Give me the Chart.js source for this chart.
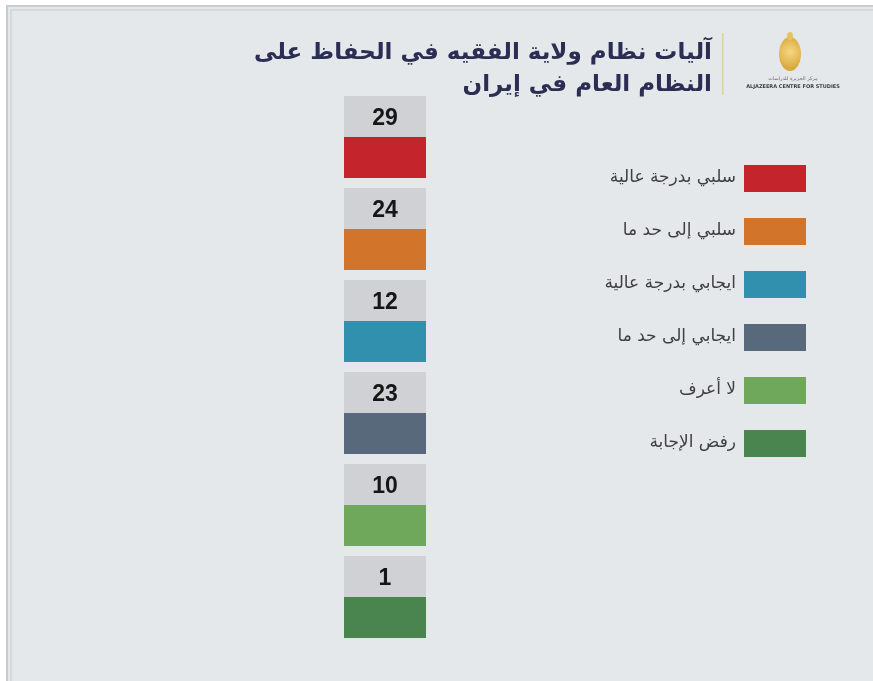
<!DOCTYPE html>
<html lang="ar">
<head>
<meta charset="utf-8">
<title>آليات نظام ولاية الفقيه</title>
<script src="https://cdn.jsdelivr.net/npm/chart.js@4.4.1/dist/chart.umd.min.js"></script>
<style>
  html, body { margin: 0; padding: 0; background: #ffffff; }
  #wrap { width: 873px; height: 681px; position: relative; }
</style>
</head>
<body>
<div id="wrap"><canvas id="chart" width="873" height="681"></canvas></div>
<script>
// survey answers, top to bottom
const categories = [
  'سلبي بدرجة عالية',
  'سلبي إلى حد ما',
  'ايجابي بدرجة عالية',
  'ايجابي إلى حد ما',
  'لا أعرف',
  'رفض الإجابة'
];
const values = [29, 24, 12, 23, 10, 1];
const colors = ['#c4242b', '#d2742a', '#3190ad', '#58697b', '#6fa75b', '#4a8550'];
const titleLines = ['آليات نظام ولاية الفقيه في الحفاظ على', 'النظام العام في إيران'];

const labelBoxColor = '#cfd1d4';
const panelColor = '#e5e8eb';

// panel background with the thin frame on top/left
const panelBackground = {
  id: 'panelBackground',
  beforeDraw(chart) {
    const ctx = chart.ctx;
    ctx.save();
    ctx.fillStyle = '#ffffff';
    ctx.fillRect(0, 0, chart.width, chart.height);
    ctx.fillStyle = panelColor;
    ctx.fillRect(6, 5, chart.width - 6, chart.height - 5);
    ctx.fillStyle = '#c9ccd0';
    ctx.fillRect(6, 5, chart.width - 6, 2);
    ctx.fillRect(6, 5, 2, chart.height - 5);
    ctx.fillStyle = '#d6d9dc';
    ctx.fillRect(10, 9, chart.width - 10, 2);
    ctx.fillRect(10, 9, 2, chart.height - 9);
    ctx.restore();
  }
};

// number printed in the grey box above each coloured block
const valueLabels = {
  id: 'valueLabels',
  afterDatasetsDraw(chart) {
    const ctx = chart.ctx;
    const meta = chart.getDatasetMeta(0);
    ctx.save();
    ctx.fillStyle = '#161616';
    ctx.font = 'bold 23px "Liberation Sans", Arial, sans-serif';
    ctx.textAlign = 'center';
    ctx.textBaseline = 'middle';
    meta.data.forEach((bar, i) => {
      ctx.fillText(String(values[i]), (bar.x + bar.base) / 2, bar.y + 2);
    });
    ctx.restore();
  }
};

// legend on the right, text to the left of each swatch
const sideLegend = {
  id: 'sideLegend',
  afterDraw(chart) {
    const ctx = chart.ctx;
    ctx.save();
    ctx.font = '17px "DejaVu Sans", sans-serif';
    ctx.textAlign = 'right';
    ctx.textBaseline = 'middle';
    ctx.direction = 'rtl';
    categories.forEach((name, i) => {
      const y = 165 + i * 53;
      ctx.fillStyle = colors[i];
      ctx.fillRect(744, y, 62, 27);
      ctx.fillStyle = '#3f3f3f';
      ctx.fillText(name, 736, y + 13);
    });
    ctx.restore();
  }
};

// title block with the separator and the centre logo
const header = {
  id: 'header',
  afterDraw(chart) {
    const ctx = chart.ctx;
    ctx.save();
    ctx.direction = 'rtl';
    ctx.textAlign = 'right';
    ctx.textBaseline = 'alphabetic';
    ctx.fillStyle = '#2b2e52';
    ctx.font = 'bold 23px "DejaVu Sans", sans-serif';
    ctx.fillText(titleLines[0], 712, 59);
    ctx.fillText(titleLines[1], 712, 91);

    // thin gold separator
    ctx.fillStyle = '#e2cf9a';
    ctx.fillRect(722, 33, 1.5, 62);

    // logo emblem
    const g = ctx.createRadialGradient(790, 52, 2, 790, 52, 16);
    g.addColorStop(0, '#f3d27a');
    g.addColorStop(1, '#d9a93c');
    ctx.fillStyle = g;
    ctx.beginPath();
    ctx.ellipse(790, 54, 11, 17, 0, 0, Math.PI * 2);
    ctx.fill();
    ctx.fillStyle = '#e8c25e';
    ctx.beginPath();
    ctx.ellipse(790, 36, 3, 4, 0, 0, Math.PI * 2);
    ctx.fill();

    ctx.direction = 'ltr';
    ctx.textAlign = 'center';
    ctx.fillStyle = '#6a6a72';
    ctx.font = '5px "DejaVu Sans", sans-serif';
    ctx.fillText('مركز الجزيرة للدراسات', 793, 80);
    ctx.fillStyle = '#3c3c48';
    ctx.font = 'bold 5px "DejaVu Sans", sans-serif';
    ctx.fillText('ALJAZEERA CENTRE FOR STUDIES', 793, 88);
    ctx.restore();
  }
};

new Chart(document.getElementById('chart'), {
  type: 'bar',
  data: {
    labels: categories,
    datasets: [
      {
        label: 'value',
        data: categories.map(() => 1),
        backgroundColor: labelBoxColor,
        borderWidth: 0
      },
      {
        label: 'color',
        data: categories.map(() => 1),
        backgroundColor: colors,
        borderWidth: 0
      }
    ]
  },
  options: {
    indexAxis: 'y',
    responsive: false,
    animation: false,
    events: [],
    layout: { padding: { left: 344, right: 447, top: 91, bottom: 38 } },
    datasets: {
      bar: { barPercentage: 1, categoryPercentage: 82 / 92 }
    },
    scales: {
      x: { display: false, min: 0, max: 1 },
      y: { display: false }
    },
    plugins: {
      legend: { display: false },
      tooltip: { enabled: false },
      title: { display: false }
    }
  },
  plugins: [panelBackground, valueLabels, sideLegend, header]
});
</script>
</body>
</html>
